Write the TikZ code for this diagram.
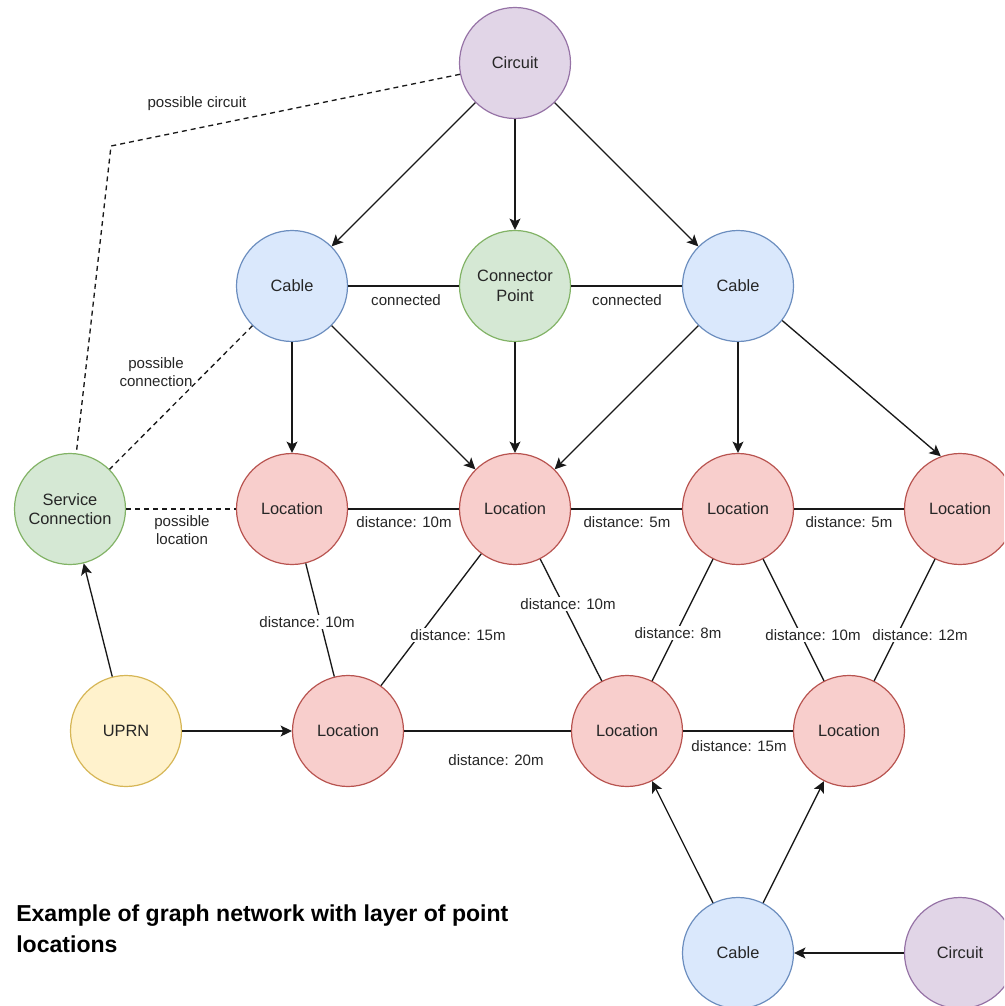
\documentclass[tikz,border=0pt]{standalone}
\usepackage{fontspec}
\setmainfont{Liberation Sans}
\usetikzlibrary{arrows.meta}
\tikzset{>={Stealth[length=8.5pt, width=8.25pt, inset=2pt]}}
\definecolor{purpfill}{HTML}{E1D5E7}
\definecolor{purpline}{HTML}{9673A6}
\definecolor{bluefill}{HTML}{DAE8FC}
\definecolor{blueline}{HTML}{6C8EBF}
\definecolor{greenfill}{HTML}{D5E8D4}
\definecolor{greenline}{HTML}{82B366}
\definecolor{redfill}{HTML}{F8CECC}
\definecolor{redline}{HTML}{B85450}
\definecolor{yellowfill}{HTML}{FFF2CC}
\definecolor{yellowline}{HTML}{D6B656}
\tikzset{
    vertex/.style={circle, draw, line width=0.9pt, minimum size=83.25pt, inner sep=0pt,
        align=center, text=black!85, font=\fontsize{12.3}{14.8}\selectfont},
    circuitnode/.style={vertex, fill=purpfill, draw=purpline},
    cablenode/.style={vertex, fill=bluefill, draw=blueline},
    joinnode/.style={vertex, fill=greenfill, draw=greenline},
    locnode/.style={vertex, fill=redfill, draw=redline},
    uprnnode/.style={vertex, fill=yellowfill, draw=yellowline},
    edgelabel/.style={fill=white, inner sep=1pt, align=center, text=black!85,
        font=\fontsize{11.3}{14}\selectfont},
    link/.style={line width=1pt, black!90},
    maybe/.style={link, dash pattern=on 3.75pt off 3pt},
    titletext/.style={align=left, inner sep=0pt, font=\bfseries\fontsize{17.3}{23.25}\selectfont},
}

\begin{document}
\begin{tikzpicture}[x=0.75pt, y=-0.75pt] % graph network
	\useasboundingbox (0,0) rectangle (1004,1006);
	\clip (0,0) rectangle (1004,1006);
	\node[circuitnode] (circTop) at (515,63) {Circuit};
	\node[cablenode] (cabL) at (292,286) {Cable};
	\node[joinnode] (conPt) at (515,286) {Connector\\Point};
	\node[cablenode] (cabR) at (738,286) {Cable};
	\node[joinnode] (svc) at (70,509) {Service\\Connection};
	\node[locnode] (locA) at (292,509) {Location};
	\node[locnode] (locB) at (515,509) {Location};
	\node[locnode] (locC) at (738,509) {Location};
	\node[locnode] (locD) at (960,509) {Location};
	\node[uprnnode] (uprn) at (126,731) {UPRN};
	\node[locnode] (locE) at (348,731) {Location};
	\node[locnode] (locF) at (627,731) {Location};
	\node[locnode] (locG) at (849,731) {Location};
	\node[cablenode] (cabBot) at (738,953) {Cable};
	\node[circuitnode] (circBot) at (960,953) {Circuit};
	\coordinate (bend) at (111,146);
	% circuit and cables
	\draw[link, ->] (circTop) -- (cabL);
	\draw[link, ->] (circTop) -- (conPt);
	\draw[link, ->] (circTop) -- (cabR);
	\draw[link] (cabL) -- (conPt) node[edgelabel] at (406,300) {connected};
	\draw[link] (conPt) -- (cabR) node[edgelabel] at (627,300) {connected};
	\draw[link, ->] (cabL) -- (locA);
	\draw[link, ->] (cabL) -- (locB);
	\draw[link, ->] (conPt) -- (locB);
	\draw[link, ->] (cabR) -- (locB);
	\draw[link, ->] (cabR) -- (locC);
	\draw[link, ->] (cabR.-38) -- (locD.110);
	% service connection
	\draw[maybe] (circTop) -- (bend) -- (svc) node[edgelabel] at (197,104) {possible circuit};
	\draw[maybe] (cabL) -- (svc) node[edgelabel, fill=none] at (156,372) {possible\\connection};
	\draw[maybe] (svc) -- (locA) node[edgelabel] at (182,530) {possible\\location};
	\draw[link, ->] (uprn) -- (svc);
	\draw[link, ->] (uprn) -- (locE);
	% distances
	\draw[link] (locA) -- (locB) node[edgelabel] at (404,522) {distance: 10m};
	\draw[link] (locB) -- (locC) node[edgelabel] at (627,522) {distance: 5m};
	\draw[link] (locC) -- (locD) node[edgelabel] at (849,522) {distance: 5m};
	\draw[link] (locA) -- (locE) node[edgelabel] at (307,622) {distance: 10m};
	\draw[link] (locB.-127) -- (locE.54) node[edgelabel] at (458,635) {distance: 15m};
	\draw[link] (locB) -- (locF) node[edgelabel] at (568,604) {distance: 10m};
	\draw[link] (locC) -- (locF) node[edgelabel] at (678,633) {distance: 8m};
	\draw[link] (locC) -- (locG) node[edgelabel] at (813,635) {distance: 10m};
	\draw[link] (locD) -- (locG) node[edgelabel] at (920,635) {distance: 12m};
	\draw[link] (locE) -- (locF) node[edgelabel] at (496,760) {distance: 20m};
	\draw[link] (locF) -- (locG) node[edgelabel] at (739,746) {distance: 15m};
	% bottom cable
	\draw[link, ->] (cabBot) -- (locF);
	\draw[link, ->] (cabBot) -- (locG);
	\draw[link, ->] (circBot) -- (cabBot);
	\node[titletext, anchor=base west] (caption) at (16,952) {Example of graph network with layer of point\\locations};
\end{tikzpicture}
\end{document}
